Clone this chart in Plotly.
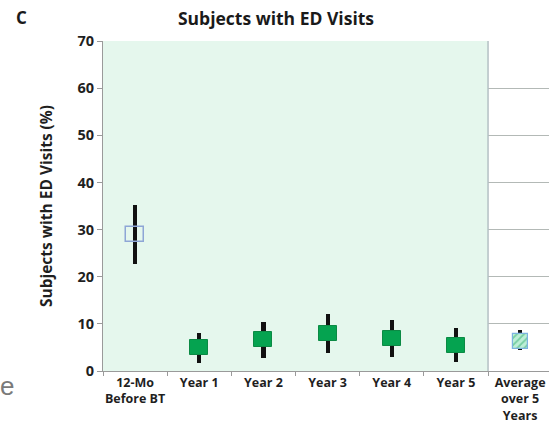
import plotly.graph_objects as go

# Share of subjects with ED visits, by period
categories = ["12-Mo<br>Before BT", "Year 1", "Year 2", "Year 3", "Year 4", "Year 5",
              "Average<br>over 5<br>Years"]
pct = [29.0, 4.9, 6.6, 7.9, 6.8, 5.5, 6.2]
ci_low = [22.7, 1.8, 2.8, 3.9, 3.0, 2.0, 4.5]
ci_high = [35.3, 8.0, 10.5, 12.1, 10.8, 9.1, 8.8]
y_ticks = [0, 10, 20, 30, 40, 50, 60, 70]

BOX_HALF = 1.6          # half-height of each estimate box, in % units
FONT = "Open Sans"

fig = go.Figure()

# Confidence-interval whiskers (drawn first so the boxes sit on top)
fig.add_trace(go.Bar(
    x=categories,
    y=[h - l for l, h in zip(ci_low, ci_high)],
    base=ci_low,
    width=0.065,
    marker=dict(color="#111111", line=dict(width=0)),
    hoverinfo="skip",
    showlegend=False,
))

# Pre-treatment estimate: hollow box
fig.add_trace(go.Bar(
    x=categories[:1],
    y=[2 * BOX_HALF],
    base=[pct[0] - BOX_HALF],
    width=0.27,
    marker=dict(color="rgba(0,0,0,0)", line=dict(color="#8ea6d6", width=1.5)),
    showlegend=False,
))

# Yearly estimates: solid green boxes
fig.add_trace(go.Bar(
    x=categories[1:6],
    y=[2 * BOX_HALF] * 5,
    base=[v - BOX_HALF for v in pct[1:6]],
    width=0.28,
    marker=dict(color="#05a350", line=dict(color="#0b8a44", width=1)),
    showlegend=False,
))

# Five-year average: hatched box
fig.add_trace(go.Bar(
    x=categories[6:],
    y=[2 * BOX_HALF],
    base=[pct[6] - BOX_HALF],
    width=0.23,
    marker=dict(
        color="#8fdcb6",
        line=dict(color="#7db3df", width=1.2),
        pattern=dict(shape="/", fgcolor="#2fae6e", bgcolor="#bdeed6", size=5, solidity=0.35),
    ),
    showlegend=False,
))

# Shaded follow-up region and its right border
fig.add_shape(type="rect", xref="x", yref="y", x0=-0.5, x1=5.5, y0=0, y1=70,
              fillcolor="#e5f7ed", line=dict(width=0), layer="between")
fig.add_shape(type="line", xref="x", yref="y", x0=5.5, x1=5.5, y0=0, y1=70,
              line=dict(color="#b4c0c4", width=1.5), layer="between")

fig.update_layout(
    width=549, height=425,
    margin=dict(l=103, r=0, t=41, b=54, autoexpand=False),
    paper_bgcolor="white", plot_bgcolor="white",
    barmode="overlay",
    font=dict(family=FONT, color="#222222"),
    title=dict(text="<b>Subjects with ED Visits</b>", x=(276 - 103) / 446, xref="paper",
               xanchor="center", y=1 - 19 / 425, yanchor="middle",
               font=dict(size=17.5, family=FONT, color="#1a1a1a")),
    annotations=[
        dict(text="<b>C</b>", xref="paper", yref="paper",
             x=(21 - 103) / 446, y=1 + (41 - 18) / 330, xanchor="center", yanchor="middle",
             showarrow=False, font=dict(size=17, family=FONT, color="#1a1a1a")),
        dict(text="e", xref="paper", yref="paper",
             x=(7 - 103) / 446, y=-(386 - 371) / 330, xanchor="center", yanchor="middle",
             showarrow=False, font=dict(size=26, family="Liberation Sans", color="#7a7a7a")),
    ],
    bargap=0,
)

fig.update_xaxes(
    type="category",
    range=[-0.5, 6.45],
    tickson="boundaries",
    tickangle=0,
    automargin=False,
    ticks="outside", ticklen=4, tickcolor="#9a9a9a",
    showline=True, linecolor="#9a9a9a", linewidth=1.2,
    showgrid=False,
    tickfont=dict(size=12.5, family=FONT, color="#1f1f1f", weight="bold"),
    fixedrange=True,
)
fig.update_yaxes(
    range=[0, 70],
    tickvals=y_ticks,
    automargin=False,
    ticks="outside", ticklen=5, tickcolor="#9a9a9a",
    showline=True, linecolor="#9a9a9a", linewidth=1.2,
    showgrid=True, gridcolor="#b3b9b6", gridwidth=1,
    zeroline=False,
    tickfont=dict(size=14.5, family=FONT, color="#1f1f1f", weight="bold"),
    title=dict(text="<b>Subjects with ED Visits (%)</b>", standoff=20,
               font=dict(size=15.5, family=FONT, color="#1f1f1f")),
    fixedrange=True,
)

fig.write_html("out.html")
